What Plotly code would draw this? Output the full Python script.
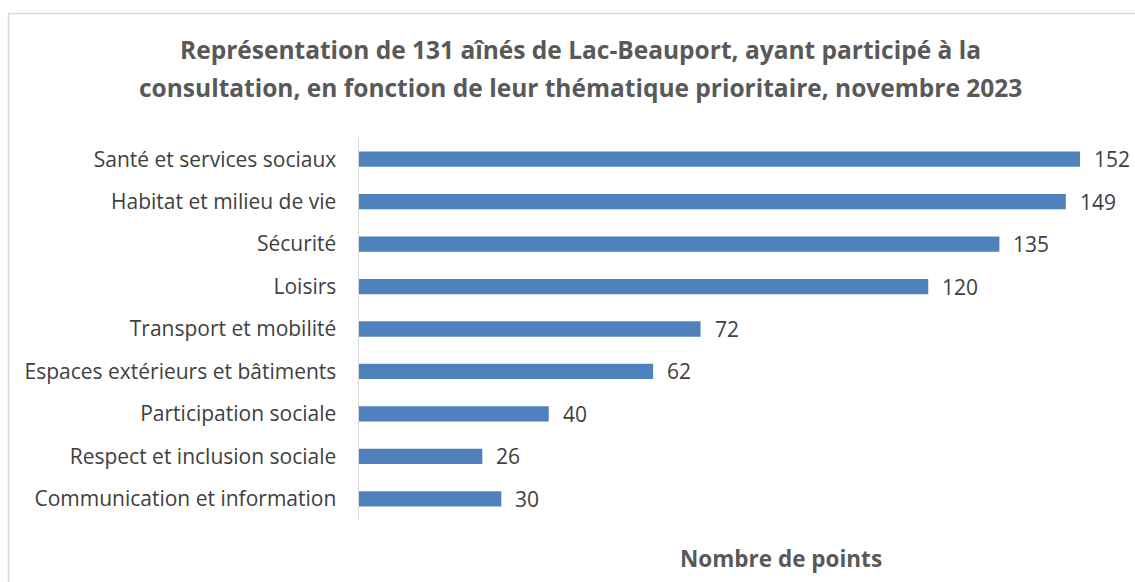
import plotly.graph_objects as go

categories = [
    "Santé et services sociaux",
    "Habitat et milieu de vie",
    "Sécurité",
    "Loisirs",
    "Transport et mobilité",
    "Espaces extérieurs et bâtiments",
    "Participation sociale",
    "Respect et inclusion sociale",
    "Communication et information",
]
points = [152, 149, 135, 120, 72, 62, 40, 26, 30]

title_line1 = "Représentation de 131 aînés de Lac-Beauport, ayant participé à la"
title_line2 = "consultation, en fonction de leur thématique prioritaire, novembre 2023"
x_title = "Nombre de points"

FONT = "Open Sans"
BAR = "#4F81BD"
TXT = "#404040"
GRID = "#D9D9D9"

W, H = 1135, 582
L, T = 359, 138
R = W - 1118
B = H - 520
pw, ph = W - L - R, H - T - B

def px(x):
    return (x - L) / pw

def py(y):
    return (H - B - y) / ph

fig = go.Figure(go.Bar(
    x=points, y=categories, orientation="h",
    marker=dict(color=BAR, line=dict(width=0)),
    width=0.36, hoverinfo="skip",
))

for c, v in zip(categories, points):
    fig.add_annotation(x=v, y=c, xref="x", yref="y", text=str(v), showarrow=False,
                       xanchor="left", yanchor="middle", xshift=12,
                       font=dict(family=FONT, size=21, color=TXT))

fig.add_annotation(x=px(580), y=py(50), xref="paper", yref="paper", text=f"<b>{title_line1}</b>",
                   showarrow=False, xanchor="center", yanchor="middle",
                   font=dict(family=FONT, size=24.5, color="#595959"))
fig.add_annotation(x=px(580), y=py(88), xref="paper", yref="paper", text=f"<b>{title_line2}</b>",
                   showarrow=False, xanchor="center", yanchor="middle",
                   font=dict(family=FONT, size=24.5, color="#595959"))
fig.add_annotation(x=px(781), y=py(558), xref="paper", yref="paper", text=f"<b>{x_title}</b>",
                   showarrow=False, xanchor="center", yanchor="middle",
                   font=dict(family=FONT, size=22.5, color="#595959"))

fig.add_shape(type="rect", xref="paper", yref="paper",
              x0=px(8.5), x1=px(1250), y0=py(13.5), y1=py(700),
              line=dict(color=GRID, width=1.5), fillcolor="rgba(0,0,0,0)", layer="below")

fig.update_layout(
    width=W, height=H,
    margin=dict(l=L, r=R, t=T, b=B, pad=0),
    paper_bgcolor="white", plot_bgcolor="white",
    showlegend=False,
    xaxis=dict(range=[0, 160], showgrid=False, zeroline=False, showticklabels=False,
               showline=False, ticks=""),
    yaxis=dict(autorange="reversed", showgrid=False, zeroline=False,
               showline=True, linecolor=GRID, linewidth=1.5, ticks="",
               ticklabelstandoff=17,
               tickfont=dict(family=FONT, size=21, color=TXT)),
)

fig.write_html("out.html", config={"displayModeBar": False, "staticPlot": True},
               post_script="document.body.style.margin='0';document.body.style.overflow='hidden';")
